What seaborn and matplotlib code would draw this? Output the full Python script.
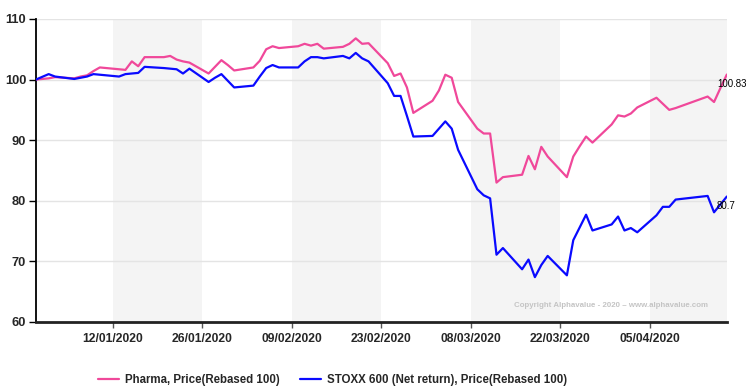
import numpy as np
import pandas as pd
import seaborn as sns
import matplotlib.pyplot as plt
import matplotlib.dates as mdates

# trading days shown on the chart (exchange holidays left out)
holidays = ['2020-01-01', '2020-04-10', '2020-04-13']
dates = pd.bdate_range('2019-12-31', '2020-04-17').drop(pd.to_datetime(holidays))

pharma = [100.0, 100.2, 100.4, 100.2, 100.5, 100.7, 101.4, 102.0,
          101.7, 101.6, 103.0, 102.2, 103.7,
          103.7, 103.9, 103.3, 103.0, 102.8,
          101.0, 102.1, 103.2, 102.4, 101.5,
          102.0, 103.1, 105.0, 105.5, 105.2,
          105.5, 105.9, 105.6, 105.9, 105.1,
          105.4, 105.9, 106.8, 105.9, 106.0,
          102.7, 100.6, 101.0, 98.7, 94.5,
          96.5, 98.2, 100.8, 100.3, 96.3,
          91.9, 91.1, 91.1, 83.0, 83.9,
          84.3, 87.4, 85.2, 88.9, 87.3,
          83.9, 87.3, 89.0, 90.6, 89.6,
          92.6, 94.1, 93.9, 94.4, 95.4,
          97.0, 96.0, 95.0, 95.3,
          97.2, 96.3, 98.6, 100.83]

stoxx = [100.0, 100.9, 100.5, 100.1, 100.3, 100.5, 100.9, 100.8,
         100.5, 100.9, 101.0, 101.1, 102.1,
         101.9, 101.8, 101.7, 101.0, 101.8,
         99.6, 100.3, 100.9, 99.8, 98.7,
         99.0, 100.5, 101.9, 102.4, 102.0,
         102.0, 103.0, 103.7, 103.7, 103.5,
         103.9, 103.5, 104.4, 103.5, 103.0,
         99.4, 97.3, 97.3, 94.0, 90.6,
         90.7, 91.9, 93.1, 91.9, 88.4,
         81.9, 80.9, 80.4, 71.1, 72.2,
         68.7, 70.3, 67.4, 69.4, 70.9,
         67.7, 73.5, 75.6, 77.7, 75.1,
         76.1, 77.4, 75.1, 75.5, 74.8,
         77.6, 79.0, 79.0, 80.2,
         80.8, 78.1, 79.4, 80.7]

series_names = ['Pharma, Price(Rebased 100)',
                'STOXX 600 (Net return), Price(Rebased 100)']
colors = ['#f0489a', '#0a0aff']
band_starts = ['2020-01-12', '2020-02-09', '2020-03-08', '2020-04-05']
tick_dates = pd.date_range('2020-01-12', periods=7, freq='14D')

df = pd.concat([
    pd.DataFrame({'date': dates, 'value': pharma, 'series': series_names[0]}),
    pd.DataFrame({'date': dates, 'value': stoxx, 'series': series_names[1]}),
])

sns.set_style('white')
plt.rcParams['font.family'] = ['Liberation Sans', 'DejaVu Sans']

fig = plt.figure(figsize=(7.47, 3.91), dpi=100)
ax = fig.add_axes([0.048, 0.1765, 0.925, 0.775])

# alternating two-week shading
for s in band_starts:
    start = pd.Timestamp(s)
    ax.axvspan(start, start + pd.Timedelta(days=14), color='#f4f4f4', zorder=0, lw=0)

for y in [70, 80, 90, 100, 110]:
    ax.axhline(y, color='#e4e4e4', lw=1, zorder=1)

sns.lineplot(data=df, x='date', y='value', hue='series', palette=colors,
             linewidth=1.6, ax=ax, legend=False, zorder=3)

ax.set_xlim(dates[0], dates[-1])
ax.set_ylim(60, 110)
ax.set_yticks([60, 70, 80, 90, 100, 110])
ax.set_xticks(tick_dates)
ax.xaxis.set_major_formatter(mdates.DateFormatter('%d/%m/%Y'))
ax.set_xlabel('')
ax.set_ylabel('')

for lab in ax.get_xticklabels():
    lab.set_fontweight('bold')
    lab.set_fontsize(8.7)
for lab in ax.get_yticklabels():
    lab.set_fontweight('bold')
    lab.set_fontsize(9.3)
ax.tick_params(axis='y', direction='out', length=5, width=1, color='black', pad=2, left=True)
ax.tick_params(axis='x', direction='out', length=4, width=1, color='#555555', pad=4, bottom=True)

for side in ['top', 'right']:
    ax.spines[side].set_visible(False)
ax.spines['left'].set_color('black')
ax.spines['left'].set_linewidth(1.3)
ax.spines['bottom'].set_color('#222222')
ax.spines['bottom'].set_linewidth(2)

# end-of-line value labels
for vals in [pharma, stoxx]:
    ax.annotate(f'{vals[-1]:g}', xy=(dates[-1], vals[-1]), xytext=(-7, -7),
                textcoords='offset points', fontsize=7, color='black',
                ha='left', va='center', zorder=4)

ax.text(0.9725, 0.053, 'Copyright Alphavalue - 2020 \u2013 www.alphavalue.com',
        transform=ax.transAxes, ha='right', va='center',
        fontsize=5.7, fontweight='bold', color='#c4c4c4', zorder=2)

handles = [plt.Line2D([], [], color=c, lw=1.6) for c in colors]
fig.legend(handles, series_names, loc='center', bbox_to_anchor=(0.445, 0.028),
           ncol=2, frameon=False, handlelength=1.85, handletextpad=0.45,
           columnspacing=1.8, prop={'weight': 'bold', 'size': 8.3})

fig.savefig('out.png', dpi=100)
